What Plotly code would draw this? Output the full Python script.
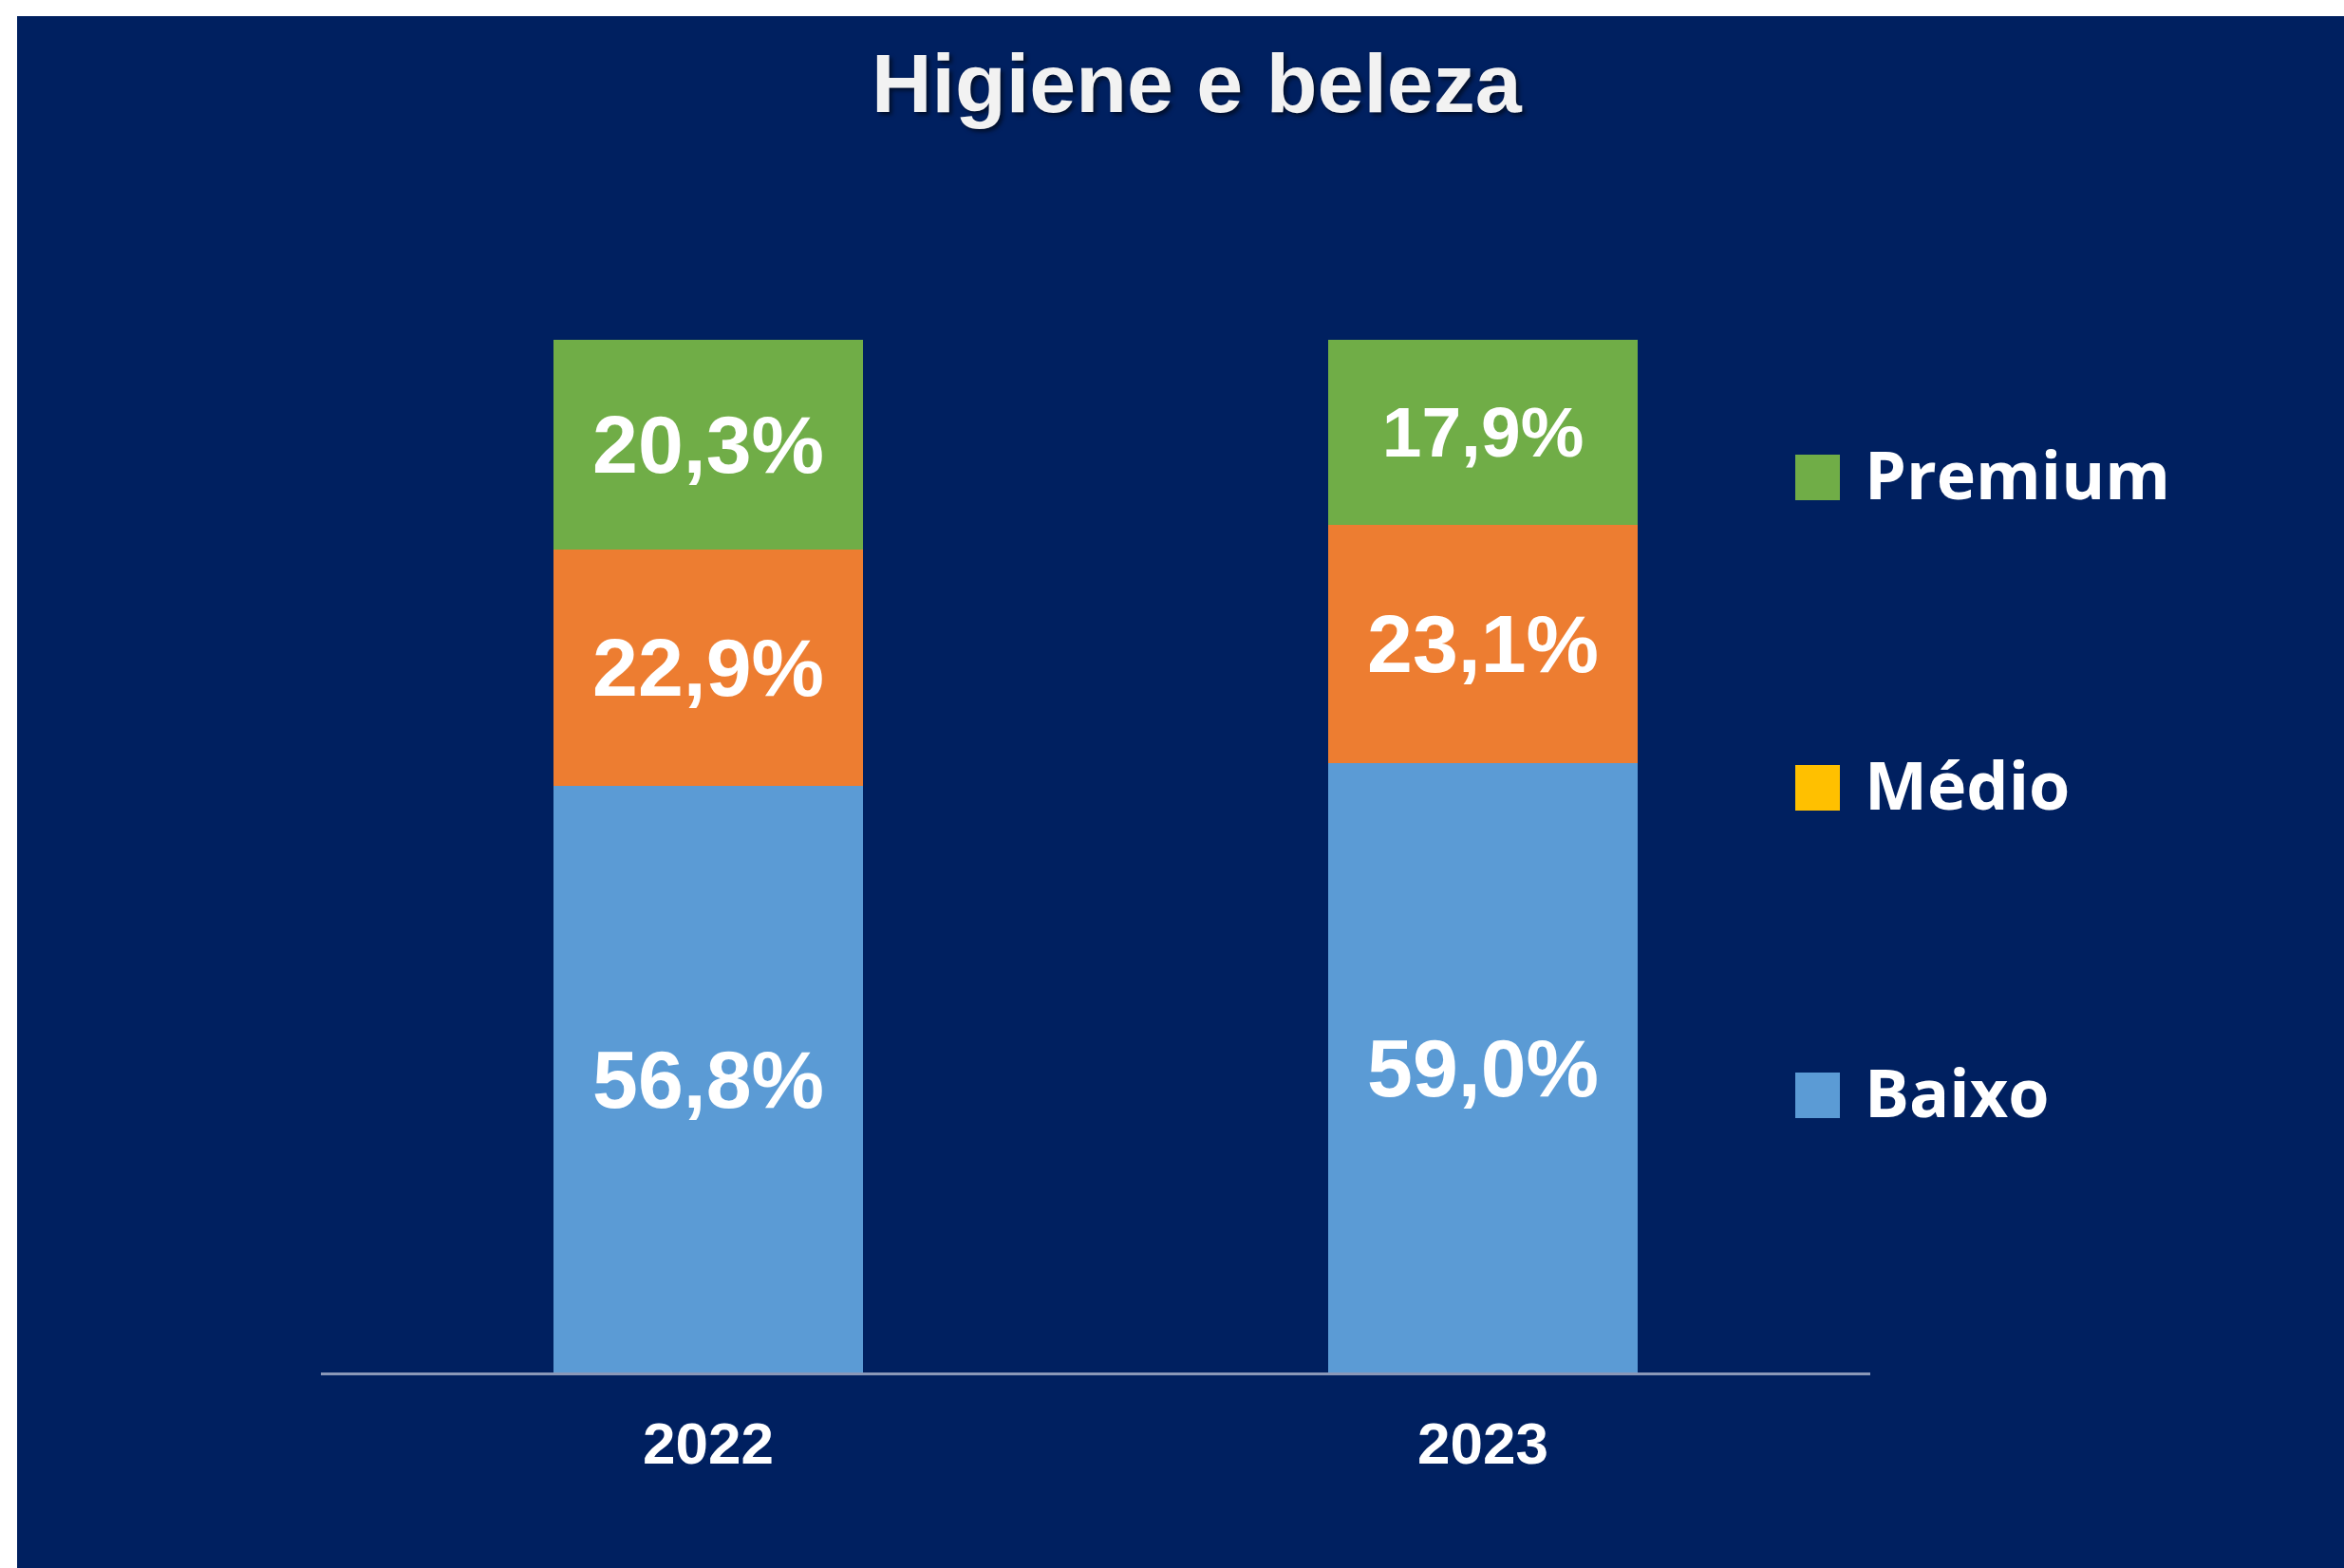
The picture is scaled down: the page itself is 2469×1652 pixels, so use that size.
import plotly.graph_objects as go

# ---- data ----
years = ["2022", "2023"]
baixo = [56.8, 59.0]
medio = [22.9, 23.1]
premium = [20.3, 17.9]
series_names = ["Premium", "Médio", "Baixo"]
title_text = "Higiene e beleza"

# ---- styles ----
NAVY = "#002060"
C_BAIXO = "#5B9BD5"
C_MEDIO = "#ED7D31"
C_MEDIO_LEG = "#FFC000"
C_PREM = "#70AD47"

W, H = 2469, 1652
PL, PR, PT, PB = 338, 1970, 358, 1446  # plot area in pixels


def px_x(px):
    return (px - PL) / (PR - PL)


def px_y(py):
    return (PB - py) / (PB - PT)


fig = go.Figure()
for name, vals, col, sizes in [
    ("Baixo", baixo, C_BAIXO, [86, 86]),
    ("Médio", medio, C_MEDIO, [86, 86]),
    ("Premium", premium, C_PREM, [86, 75]),
]:
    fig.add_trace(go.Bar(
        x=years, y=vals, name=name,
        marker=dict(color=col, line=dict(width=0)),
        texttemplate="%{y:.1f}%",
        textposition="inside",
        insidetextanchor="middle",
        textangle=0,
        constraintext="none",
        textfont=dict(family="Liberation Sans, Arial", size=sizes, color="white", weight="bold"),
        showlegend=False,
        hoverinfo="skip",
    ))

shapes = [
    dict(type="rect", xref="paper", yref="paper", layer="below",
         x0=px_x(18), x1=px_x(W + 5), y0=px_y(H + 5), y1=px_y(17),
         fillcolor=NAVY, line=dict(width=0)),
]
annotations = [
    dict(text=title_text, xref="paper", yref="paper", x=px_x(1261), y=px_y(87),
         xanchor="center", yanchor="middle", showarrow=False,
         font=dict(family="Liberation Sans, Arial", size=88, color="#F2F2F2", weight="bold",
                   shadow="3px 3px 4px rgba(0,0,0,0.55)")),
]

leg_colors = {"Premium": C_PREM, "Médio": C_MEDIO_LEG, "Baixo": C_BAIXO}
leg_centers = [503, 830, 1154]
for name, cy in zip(series_names, leg_centers):
    shapes.append(dict(type="rect", xref="paper", yref="paper",
                       x0=px_x(1891), x1=px_x(1938), y0=px_y(cy + 24), y1=px_y(cy - 24),
                       fillcolor=leg_colors[name], line=dict(width=0)))
    annotations.append(dict(text=name, xref="paper", yref="paper",
                            x=px_x(1962), y=px_y(cy - 4), xanchor="left", yanchor="middle",
                            showarrow=False,
                            font=dict(family="Open Sans", size=70, color="white", weight="bold")))

fig.update_layout(
    width=W, height=H,
    margin=dict(l=PL, r=W - PR, t=PT, b=H - PB, pad=0),
    paper_bgcolor="white",
    plot_bgcolor="rgba(0,0,0,0)",
    barmode="stack",
    bargap=0.6,
    separators=",.",
    showlegend=False,
    shapes=shapes,
    annotations=annotations,
    xaxis=dict(
        showline=True, linecolor="#8A98B8", linewidth=3,
        showgrid=False, ticks="", zeroline=False,
        tickfont=dict(family="Liberation Sans, Arial", size=62, color="white", weight="bold"),
        ticklabelstandoff=19,
    ),
    yaxis=dict(range=[0, 100], visible=False, showgrid=False, zeroline=False),
)

fig.write_html("out.html", config={"displayModeBar": False},
               post_script="document.body.style.margin='0';document.body.style.overflow='hidden';")
